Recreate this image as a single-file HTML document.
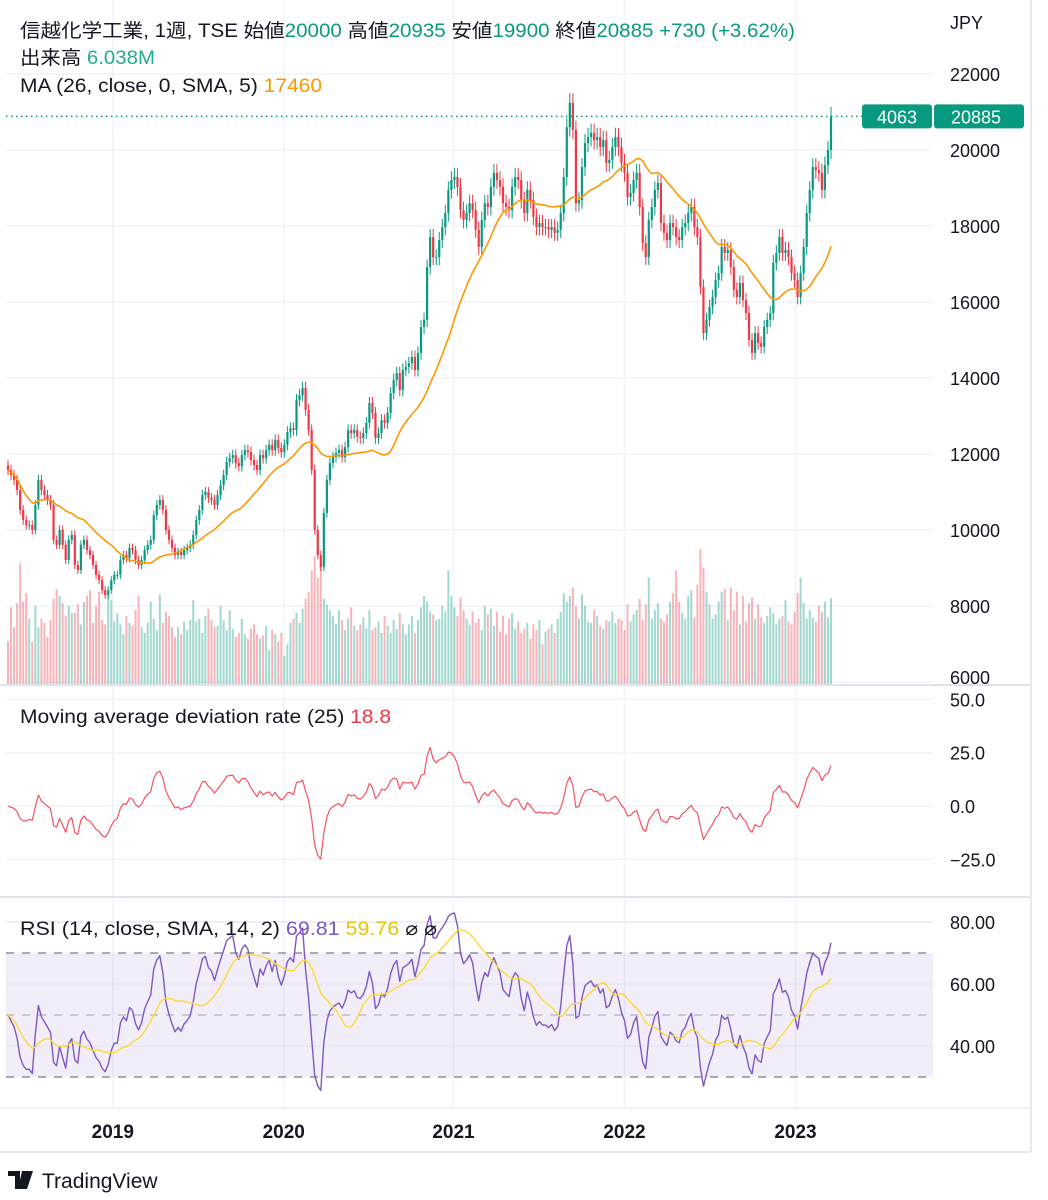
<!DOCTYPE html>
<html><head><meta charset="utf-8"><style>
html,body{margin:0;padding:0;background:#fff;}
svg{display:block;font-family:"Liberation Sans","Noto Sans CJK JP",sans-serif;}
</style></head><body>
<svg id="chart" width="1048" height="1200" viewBox="0 0 1048 1200" xmlns="http://www.w3.org/2000/svg" xml:space="preserve">
<defs>
<clipPath id="clipMain"><rect x="6" y="0" width="927" height="684"/></clipPath>
<clipPath id="clipDev"><rect x="6" y="686" width="927" height="210"/></clipPath>
<clipPath id="clipRsi"><rect x="6" y="898" width="927" height="209"/></clipPath>
</defs>
<rect x="0" y="0" width="1048" height="1200" fill="#fff"/>
<g id="grid"></g>
<g id="vol"></g>
<g id="candles"></g>
<g id="ind"></g>
<g id="axes"></g>
<line x1="0" y1="685" x2="1031" y2="685" stroke="#e0e3eb" stroke-width="2"/>
<line x1="0" y1="897" x2="1031" y2="897" stroke="#e0e3eb" stroke-width="2"/>
<line x1="0" y1="1108" x2="1031" y2="1108" stroke="#e0e3eb" stroke-width="1"/>
<line x1="1031" y1="0" x2="1031" y2="1152" stroke="#e0e3eb" stroke-width="1.5"/>
<line x1="0" y1="1152" x2="1031" y2="1152" stroke="#e0e3eb" stroke-width="1.5"/>
<text x="20" y="37" font-size="19" textLength="775" lengthAdjust="spacingAndGlyphs"><tspan fill="#131722">信越化学工業, 1週, TSE  始値</tspan><tspan fill="#089981">20000</tspan><tspan fill="#131722">  高値</tspan><tspan fill="#089981">20935</tspan><tspan fill="#131722">  安値</tspan><tspan fill="#089981">19900</tspan><tspan fill="#131722">  終値</tspan><tspan fill="#089981">20885  +730 (+3.62%)</tspan></text>
<text x="20" y="64" font-size="19" textLength="135" lengthAdjust="spacingAndGlyphs"><tspan fill="#131722">出来高  </tspan><tspan fill="#22ab94">6.038M</tspan></text>
<text x="20" y="92" font-size="19" textLength="302" lengthAdjust="spacingAndGlyphs"><tspan fill="#131722">MA (26, close, 0, SMA, 5)  </tspan><tspan fill="#ff9800">17460</tspan></text>
<text x="20" y="723" font-size="19" textLength="371" lengthAdjust="spacingAndGlyphs"><tspan fill="#131722">Moving average deviation rate (25)  </tspan><tspan fill="#f23645">18.8</tspan></text>
<text x="20" y="935" font-size="19" textLength="417" lengthAdjust="spacingAndGlyphs"><tspan fill="#131722">RSI (14, close, SMA, 14, 2)  </tspan><tspan fill="#7e57c2">69.81</tspan><tspan fill="#e8c500">  59.76</tspan><tspan fill="#131722">   ⌀   ⌀</tspan></text>
<text x="950" y="29" font-size="18" fill="#131722">JPY</text>
<g>
<path d="M8 1171h12v18h-5v-13h-7z M22 1171h5l-4 18h-5z M27 1171h6l-6 18h-4z" fill="#131722"/>
<text x="42" y="1188" font-size="21" fill="#131722">TradingView</text>
</g>
</svg>
<script>
const closes = [
11580,11450,11320,11050,10530,10260,10130,10130,10000,10660,
11320,11050,10920,10790,10660,9740,9610,10000,9610,9210,
9740,9870,9080,8950,9610,9740,9470,9340,9080,8820,
8680,8420,8290,8420,8680,8820,8820,9210,9340,9260,
9530,9470,9210,9080,9210,9470,9610,9740,10390,10660,
10790,10530,10000,9740,9530,9340,9420,9340,9470,9530,
9610,9870,10260,10530,10920,11000,10840,10790,10660,10920,
11180,11450,11790,11890,11970,11760,11680,11970,12100,12050,
11840,11710,11580,11970,11890,12100,12240,12100,12370,12160,
12050,12240,12580,12680,12630,13420,13550,13740,13160,12630,
11580,10000,9340,9030,10450,11320,11760,11920,12030,12100,
11920,12180,12630,12550,12630,12450,12420,12550,12820,13340,
13080,12420,12550,12890,12820,13080,13600,13950,14130,13680,
14210,14290,14390,14550,14210,14660,15340,15530,16920,17710,
17180,17180,17630,17970,18340,18950,19210,19290,19030,18420,
18160,18340,18600,18420,17900,17450,18160,18600,18500,19030,
19400,19210,19030,18600,18500,18420,19030,19290,19210,18680,
18340,18950,18680,18240,17970,18080,17970,17970,17900,17970,
17820,17900,18340,19290,20600,21240,20530,18600,18680,19550,
20180,20340,20450,20260,20340,20080,20260,19660,19740,20080,
20340,20080,19660,19400,18760,18870,19210,19400,18500,17550,
17180,18160,18500,18950,19130,18080,17820,17630,18080,17970,
17710,17630,17970,18080,18340,18500,17970,17710,16400,15180,
15530,15870,16130,16580,16760,17450,17290,17370,16920,16320,
16130,16500,16050,15710,15000,14660,15180,14920,14820,15340,
15530,15710,17030,17290,17710,17290,17370,17180,16760,16580,
16130,16760,17450,18340,18950,19550,19470,19400,18950,19600,
20000,20885];
const firstOpen = 11700;
const volumes = [
3,5.4,4,5.7,8.5,5.8,6.4,4.6,3,5.5,
4,4.6,4.3,3.3,4.5,6,6.7,6.2,5.7,4.8,
5.5,5,5,5.6,4.2,5.8,6.2,6.6,4.3,5.5,
6.5,4.5,4.2,6.2,5.9,4.4,5,4.2,3.5,4.8,
4.3,4.1,5.2,6.2,4,3.6,4.3,5.8,4.6,3.8,
6.3,4.3,5.1,4.8,4,3.3,4,3.5,4.4,3.8,
4.5,5.9,4.4,4.6,3.6,4.8,5.3,4.5,4,4.1,
5.5,4.5,3.8,5.2,3.9,3.3,3.6,4.6,3.5,3.2,
3.9,4.2,3.5,3.2,3.4,4.1,2.4,3.8,3.5,3,
3.6,2,2.8,4.3,4.6,5,4.3,5.3,6,6.5,
8,9,7.5,8.5,6,5.6,5.2,4.8,4.2,5.2,
4.5,3.8,4.6,5.4,4.1,3.8,4.2,4.7,3.9,5.2,
3.8,4,4.4,3.6,4.8,4.1,3.6,4.5,3.9,5,
4.2,3.5,4.2,4.8,3.6,4.5,5.4,6.2,5.8,5.1,
4.9,4.5,4.6,5.5,5.1,8,6.2,5.4,4.8,6.1,
5.2,4.6,4.2,5.1,4.3,4.6,3.8,5.5,4.9,5.3,
4.1,5.1,3.7,4.8,3.5,4.6,5,3.9,4.4,3.6,
3.9,4.3,3.2,4.2,3.8,4.5,2.8,3.7,3.9,4.2,
3.6,4.6,5.1,6.4,5.8,6.2,6.8,5.5,4.6,6.3,
5.5,4.4,4.3,5.2,4.8,4.1,3.9,4.5,4.4,5.1,
4.3,4.6,4.5,3.8,5.6,4.4,4.9,5.2,6,4.5,
5.6,7.5,4.6,5.2,5.7,4.6,4.4,4.9,5.8,6.4,
8,5.8,5,4.6,6.2,6.6,4.7,7,9.5,8.2,
6.5,5.6,4.6,4.9,5.8,6.5,6.7,4.5,6.8,5.2,
6.5,4.2,6.2,4.4,5.7,6.1,4.6,5.6,4.7,4.3,
4.8,5.4,5,4.2,4.6,4.8,5.9,4.4,4.2,5.1,
6.4,7.5,5.7,4.6,5.2,4.7,4.4,5.5,5.1,5.8,
4.7,6.04];
const priceTicks = [22000,20000,18000,16000,14000,12000,10000,8000,6000];
const devTicks = [50,25,0,-25];
const devTickLabels = ["50.0","25.0","0.0","\u221225.0"];
const rsiTicks = [80,60,40];
const rsiTickLabels = ["80.00","60.00","40.00"];
const yearLabels = ["2019","2020","2021","2022","2023"];
const yearIndex = [34.5,90.8,146.7,203,259.3];
const lastPriceLabel = "20885";
const countdownLabel = "4063";

const NS="http://www.w3.org/2000/svg";
const n=closes.length;
const X0=8,X1=831;
function xOf(i){return X0+i*(X1-X0)/(n-1);}
function yP(p){return 150+(20000-p)*0.038;}
function yV(v){return 684-v*14.2;}
function yD(d){return 806-d*53.3/25;}
function yR(r){return 1015-(r-50)*3.1;}
function mk(tag,attrs,parent){const e=document.createElementNS(NS,tag);for(const k in attrs)e.setAttribute(k,attrs[k]);parent.appendChild(e);return e;}
const G=id=>document.getElementById(id);
const UP="#089981",DN="#f23645";

const grid=G('grid');
priceTicks.forEach(t=>{const l=mk('line',{x1:6,x2:933,y1:yP(t),y2:yP(t),stroke:"#f0f3fa","stroke-width":1.5},grid);

});
devTicks.forEach(t=>{const l=mk('line',{x1:6,x2:933,y1:yD(t),y2:yD(t),stroke:"#f0f3fa","stroke-width":1.5},grid);

});
yearIndex.forEach(ix=>{const x=xOf(ix);const l=mk('line',{x1:x,x2:x,y1:0,y2:1108,stroke:"#f0f3fa","stroke-width":1.5},grid);

});
const band=mk('rect',{x:6,y:yR(70),width:927,height:yR(30)-yR(70),fill:"rgba(126,87,194,0.1)"},grid);


rsiTicks.forEach(t=>{const l=mk('line',{x1:6,x2:933,y1:yR(t),y2:yR(t),stroke:"#e6e3ef","stroke-width":1.2},grid);

});
[[70,"#787b86"],[50,"#b2b5be"],[30,"#787b86"]].forEach(a=>{const l=mk('line',{x1:6,x2:933,y1:yR(a[0]),y2:yR(a[0]),stroke:a[1],"stroke-width":1.3,"stroke-dasharray":"8 8"},grid);

});

const opens=closes.map((c,i)=>i===0?firstOpen:closes[i-1]);
const cg=G('candles'),vg=G('vol');
for(let i=0;i<n;i++){
  const o=opens[i],c=closes[i],up=c>=o,x=xOf(i),col=up?UP:DN;
  const hi=Math.max(o,c)*1.012,lo=Math.min(o,c)*0.988;
  const w=mk('line',{x1:x,x2:x,y1:yP(hi),y2:yP(lo),stroke:col,"stroke-width":1},cg);
  
  
  const top=yP(Math.max(o,c)),h=Math.max(1,yP(Math.min(o,c))-top);
  const b=mk('rect',{x:x-1.1,y:top,width:2.2,height:h,fill:col},cg);
  
  
  if(volumes[i]!==undefined){
    const vb=mk('rect',{x:x-1,y:yV(volumes[i]),width:2,height:684-yV(volumes[i]),fill:up?"rgba(8,153,129,0.38)":"rgba(242,54,69,0.38)"},vg);
    
    
  }
}
function sma(arr,len,i){let s=0,k=0;for(let j=Math.max(0,i-len+1);j<=i;j++){if(arr[j]==null)continue;s+=arr[j];k++;}return k?s/k:null;}
const ind=G('ind');
function path(pts,color,w,name,clip){const d=pts.filter(p=>p).map((p,j)=>(j?'L':'M')+p[0].toFixed(1)+' '+p[1].toFixed(1)).join(' ');
const e=mk('path',{d:d,fill:"none",stroke:color,"stroke-width":w,"stroke-linejoin":"round","clip-path":"url(#"+clip+")"},ind);

}
path(closes.map((c,i)=>[xOf(i),yP(sma(closes,26,i))]),"#ff9800",1.6,'ma-line','clipMain');
path(closes.map((c,i)=>{const m=sma(closes,25,i);return [xOf(i),yD((c-m)/m*100)];}),"#f7525f",1.2,'deviation-line','clipDev');
// RSI (Wilder), neutral seed from average absolute change of first 14 weeks
let seed=0;
for(let i=1;i<=14&&i<n;i++){seed+=Math.abs(closes[i]-closes[i-1])/28;}
let ag=seed,al=seed;
const rsi=new Array(n).fill(null);
rsi[0]=50;
for(let i=1;i<n;i++){const ch=closes[i]-closes[i-1];ag=(ag*13+Math.max(ch,0))/14;al=(al*13+Math.max(-ch,0))/14;rsi[i]=100-100/(1+ag/(al||1e-9));}
path(rsi.map((r,i)=>[xOf(i),yR(r)]),"#7e57c2",1.4,'rsi-line','clipRsi');
path(rsi.map((r,i)=>[xOf(i),yR(sma(rsi,14,i))]),"#fdd835",1.4,'rsi-sma-line','clipRsi');

const ax=G('axes');
function txt(x,y,s,attrs,name){const t=mk('text',Object.assign({x:x,y:y,"font-size":18,fill:"#131722"},attrs||{}),ax);t.textContent=s;

return t;}
priceTicks.forEach(t=>txt(950,Math.min(yP(t),677)+7,String(t),{},'price-tick-label'));
devTicks.forEach((t,i)=>txt(950,yD(t)+7,devTickLabels[i],{},'deviation-tick-label'));
rsiTicks.forEach((t,i)=>txt(950,yR(t)+7,rsiTickLabels[i],{},'rsi-tick-label'));
yearIndex.forEach((ix,i)=>txt(xOf(ix),1138,yearLabels[i],{"font-weight":"bold","text-anchor":"middle","font-size":19},'year-label'));
const lp=closes[n-1],ly=yP(lp);
const dl=mk('line',{x1:6,x2:862,y1:ly,y2:ly,stroke:UP,"stroke-width":1.5,"stroke-dasharray":"1.5 3.5"},ax);


const b1=mk('rect',{x:862,y:ly-12,width:70,height:24,rx:3,fill:UP},ax);


const b2=mk('rect',{x:934,y:ly-12,width:90,height:24,rx:3,fill:UP},ax);


txt(897,ly+7,countdownLabel,{fill:"#fff","text-anchor":"middle"},'countdown-text');
txt(951,ly+7,lastPriceLabel,{fill:"#fff"},'last-price-text');
</script>
</body></html>
